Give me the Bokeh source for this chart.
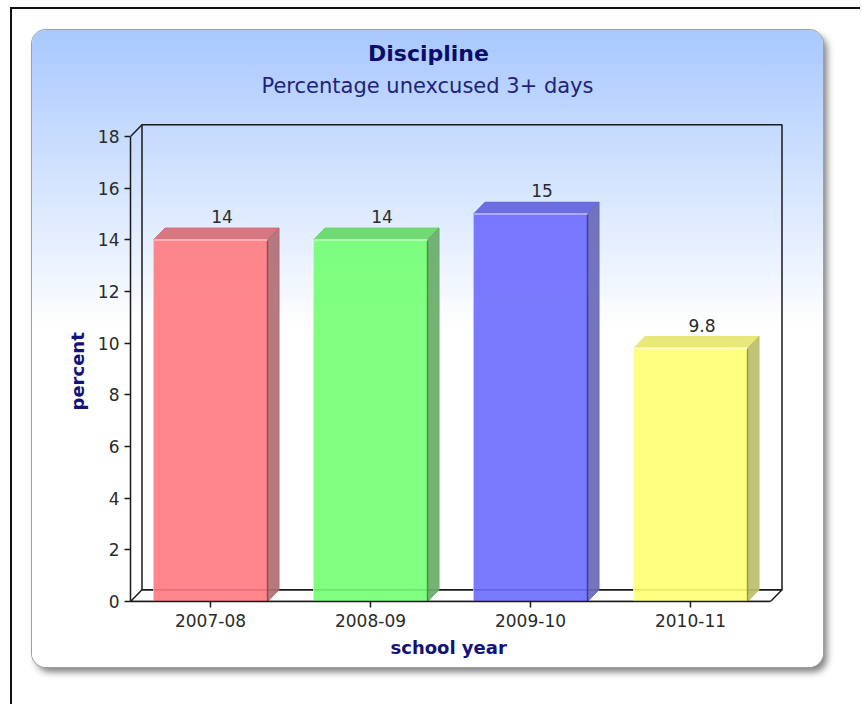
from bokeh.plotting import figure
from bokeh.models import Range1d, FixedTicker, ColumnDataSource, Title
from bokeh.layouts import column
from bokeh.core.properties import value
from bokeh.embed import file_html
from bokeh.resources import INLINE

# ---------------- data ----------------
title = "Discipline"
subtitle = "Percentage unexcused 3+ days"
x_title = "school year"
y_title = "percent"
categories = ["2007-08", "2008-09", "2009-10", "2010-11"]
values = [14, 14, 15, 9.8]
value_labels = ["14", "14", "15", "9.8"]
y_ticks = [0, 2, 4, 6, 8, 10, 12, 14, 16, 18]
y_max = 18

# ---------------- styles ----------------
front_colors = ["#ff7a7e", "#72ff72", "#6c6cff", "#ffff72"]
top_colors = ["#d66c76", "#68d868", "#6262de", "#e6e670"]
side_colors = ["#b26c74", "#68ac68", "#6868ba", "#bebe6c"]
edge_dark = ["#8a3a44", "#2f8a2f", "#2c2c8a", "#8a8a2c"]
edge_light = ["#ffc4c6", "#c4ffc4", "#c4c4ff", "#ffffd0"]
FONT = "DejaVu Sans"
NAVY = "#12127a"

W, H = 791, 637
LEFT, BOTTOM = 98, 66
PX_X = 160.0          # pixels per category
PX_Y = 25.83          # pixels per percent
FRAME_W = W - LEFT
FRAME_H = H - BOTTOM
DX = 11.5 / PX_X      # 3D depth
DY = 11.8 / PX_Y
BAR_W = 114 / PX_X
PAGE_X0, PAGE_Y0 = 32 + LEFT, 30 + FRAME_H   # page position of data origin


def xd(px):
    return (px - PAGE_X0) / PX_X


def yd(py):
    return (PAGE_Y0 - py) / PX_Y


n = len(categories)
centers = [i + 0.5 for i in range(n)]
lefts = [c - BAR_W / 2 for c in centers]
rights = [c + BAR_W / 2 for c in centers]

p = figure(width=W, height=H, output_backend="svg", toolbar_location=None,
           title=None,
           x_range=Range1d(0, FRAME_W / PX_X), y_range=Range1d(0, FRAME_H / PX_Y),
           min_border_left=LEFT, min_border_bottom=BOTTOM,
           min_border_top=0, min_border_right=0,
           background_fill_color=None, border_fill_color=None,
           outline_line_color=None)
p.grid.visible = False

# axes
for ax in (p.xaxis, p.yaxis):
    ax.axis_line_color = "#1a1a1a"
    ax.axis_line_width = 1.5
    ax.major_tick_line_color = "#1a1a1a"
    ax.major_tick_line_width = 1.5
    ax.major_tick_out = 6
    ax.major_tick_in = 0
    ax.minor_tick_line_color = None
    ax.major_label_text_font = FONT
    ax.major_label_text_font_size = "17px"
    ax.major_label_text_color = "#2a2a2a"

p.xaxis.ticker = FixedTicker(ticks=centers)
p.xaxis.major_label_overrides = {c: cat for c, cat in zip(centers, categories)}
p.xaxis.bounds = (0, n)
p.xaxis.major_label_standoff = 6

p.yaxis.ticker = FixedTicker(ticks=y_ticks)
p.yaxis.bounds = (0, y_max)
p.yaxis.major_label_standoff = 5

# axis titles (side-panel titles, offset along the axis from its start)
p.add_layout(Title(text=x_title, text_font=FONT, text_font_style="bold",
                   text_font_size="18px", text_color=NAVY,
                   align="left", vertical_align="top",
                   offset=260, standoff=14), "below")
p.add_layout(Title(text=y_title, text_font=FONT, text_font_style="bold",
                   text_font_size="18px", text_color=NAVY,
                   align="left", vertical_align="bottom",
                   offset=191, standoff=14), "left")

# 3D walls
WALL = "#1a1a1a"
p.quad(left=[DX], right=[n + DX], bottom=[DY], top=[y_max + DY],
       fill_color=None, line_color=WALL, line_width=1.5)
p.patch(x=[0, n, n + DX, DX], y=[0, 0, DY, DY], fill_color=None,
        line_color=WALL, line_width=1.5)
p.line(x=[0, DX], y=[y_max, y_max + DY], line_color=WALL, line_width=1.5)

# bars
src = ColumnDataSource(dict(left=lefts, right=rights, top=values,
                            front=front_colors, dark=edge_dark, light=edge_light))
top_xs = [[l, l + DX, r + DX, r] for l, r in zip(lefts, rights)]
top_ys = [[v, v + DY, v + DY, v] for v in values]
side_xs = [[r, r + DX, r + DX, r] for r in rights]
side_ys = [[0, DY, v + DY, v] for v in values]

p.quad(left="left", right="right", bottom=0, top="top", source=src,
       fill_color="front", fill_alpha=0.9, line_color=None)
p.patches(xs=top_xs, ys=top_ys, fill_color=top_colors, fill_alpha=0.92,
          line_color=top_colors, line_width=1)
p.patches(xs=side_xs, ys=side_ys, fill_color=side_colors, fill_alpha=0.92,
          line_color=side_colors, line_width=1)
p.segment(x0="right", y0=0, x1="right", y1="top", source=src,
          line_color="dark", line_width=1.5, line_alpha=0.7)
p.segment(x0="left", y0="top", x1="right", y1="top", source=src,
          line_color="light", line_width=1.5)
p.segment(x0="left", y0=0, x1="left", y1="top", source=src,
          line_color="light", line_width=1, line_alpha=0.8)

# value labels
p.text(x=[c + DX for c in centers], y=[v + DY + 11.5 / PX_Y for v in values],
       text=value_labels, text_font=value(FONT), text_font_size="17px",
       text_color="#2a2a2a", text_align="center", text_baseline="middle")

# titles
p.text(x=[xd(428)], y=[yd(53)], text=[title], text_font=value(FONT),
       text_font_style="bold", text_font_size="22px", text_color="#0c0c6c",
       text_align="center", text_baseline="middle")
p.text(x=[xd(427)], y=[yd(85)], text=[subtitle], text_font=value(FONT),
       text_font_size="21px", text_color="#22227c",
       text_align="center", text_baseline="middle")

p.margin = (21, 0, 0, 20)
p.styles = {
    "background": "linear-gradient(180deg, #a8c8ff 0%, #ffffff 47%)",
    "border-radius": "14px",
    "box-shadow": "0 0 0 1px #a0a0a0, 4px 5px 7px rgba(0,0,0,0.5)",
}

layout = column(p, width=850, height=697, styles={
    "border-left": "2px solid #111",
    "border-top": "2px solid #111",
    "margin-left": "10px",
    "margin-top": "7px",
})

open("out.html", "w").write(file_html(layout, INLINE))
